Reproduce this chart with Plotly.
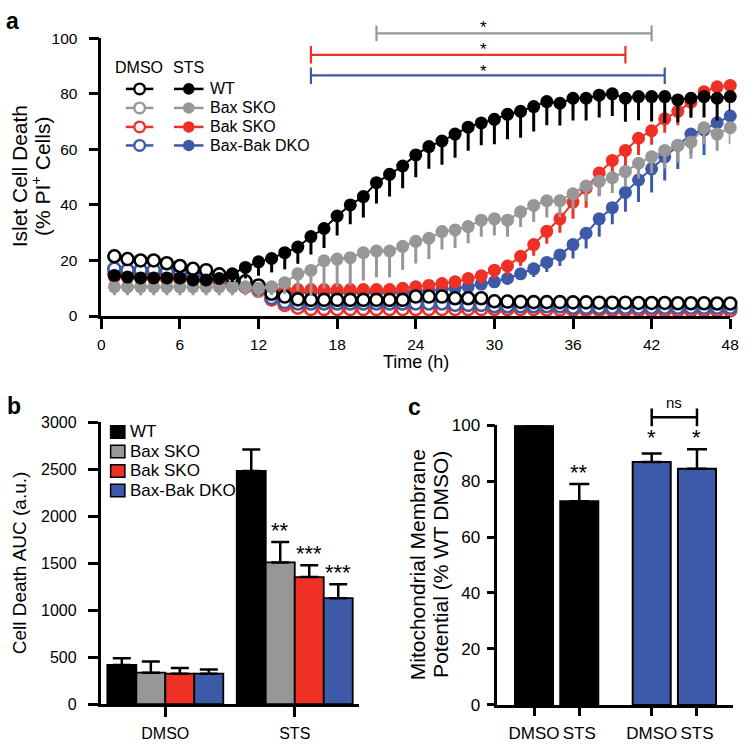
import plotly.graph_objects as go

W, H = 753, 749
def X(p): return p / W
def Y(p): return 1 - p / H

FONT = "Arial, Liberation Sans, Helvetica, sans-serif"
BLACK = "#000000"
GRAY = "#979797"
RED = "#EE3124"
BLUE = "#3D5AA8"

# ---------------- Panel a data ----------------
hours = list(range(1, 49))
xticks_a = [0, 6, 12, 18, 24, 30, 36, 42, 48]
yticks_a = [0, 20, 40, 60, 80, 100]

wt_sts = [14.6, 14, 13.7, 13.7, 13.7, 13.7, 13, 13, 13.5, 15.2, 17.5, 19.5, 20.7, 22.8, 24.8, 28.6,
          31.5, 36, 40, 43, 48, 51, 54, 58, 61, 63, 65.5, 68, 69.5, 70.8, 72.6, 73.7,
          75.4, 77.2, 76.6, 78.4, 78.4, 79.5, 80, 78.4, 79, 79, 79, 77.8, 78.4, 79, 78.4, 79]
wt_sts_err = [2, 2, 2, 2, 2, 2, 2, 2, 2, 3, 4, 5, 5, 6, 6, 6.5,
              7, 7, 7, 7.5, 7.5, 8, 8, 8, 8, 8.5, 8.5, 8.5, 8, 9, 9, 9.5,
              9, 8.5, 8, 8, 8, 8, 8, 8.5, 8.5, 9, 9.5, 8, 7, 7.5, 8, 5]

bax_sts = [10.5, 10.5, 10.5, 10.5, 10.5, 10.5, 10.5, 10.5, 10.5, 10.5, 10.5, 10, 10.5, 12, 15.2, 16.4,
           19.9, 20.5, 21, 22.8, 23.4, 23.4, 25.1, 26.9, 28, 30.4, 31, 32.2, 34.5, 35, 34.5, 37.5,
           39.8, 41.5, 41.5, 44, 46.8, 48.5, 49.8, 52, 55, 57.3, 59.6, 61.4, 62.6, 67.8, 65.5, 67.8]
bax_sts_err = [3, 3, 3, 3, 3, 3, 3, 3, 3, 3, 3, 3, 3, 4, 6, 9,
               10, 10, 10, 10, 9.5, 9.5, 8.5, 8, 7.5, 6.5, 6.5, 6, 6, 6, 6, 5.5,
               6, 6, 6, 5.5, 5.5, 5.5, 5.5, 5.5, 5.5, 6, 6.5, 6, 6, 6, 6, 6]

bak_sts = [14, 14, 13.5, 13.5, 13, 13, 13, 12.5, 12.5, 12, 12, 10.5, 9.5, 9.5, 9.5, 9.5,
           9.5, 9.5, 9.5, 9.5, 9.5, 9.5, 10, 10.5, 11, 11.7, 12.3, 13.5, 14.5, 16.5, 18, 21.5,
           25.7, 30.5, 35, 41, 46, 51.5, 56, 59.6, 64, 66.7, 71, 73.7, 77, 80.7, 82.5, 83]
bak_sts_err = [2, 2, 2, 2, 2, 2, 2, 2, 2, 2, 2, 2, 2, 2, 2, 2,
               2, 2, 2, 2, 2, 2, 2, 2, 2, 2, 2, 2, 3, 3, 3.5, 3.5,
               4, 4.5, 5, 6, 7, 8, 7, 6, 6, 5, 5, 5, 5, 4, 3, 2]

dko_sts = [16, 16, 15.5, 15.5, 15.5, 15, 15, 14.5, 14, 13, 12, 10, 9, 8.5, 8.5, 8.5,
           8.5, 8.5, 8.5, 8.5, 8.5, 8.5, 8.5, 9, 9, 9.5, 10, 10.5, 11.5, 12.3, 13.5, 15.2,
           17, 19.3, 22, 25.7, 29.8, 35, 39, 44.5, 49, 53, 57.3, 61.4, 65.5, 67, 69.6, 72]
dko_sts_err = [1.5] * 30 + [2, 2, 3, 3.5, 4, 5, 5.5, 6.5, 6, 7, 8, 8.5, 8.5, 8.5, 7, 9, 6, 5]

wt_dmso = [21.5, 20.5, 20, 20, 19, 18, 17, 16.5, 15, 14, 12.5, 11, 8, 7, 6, 5.8,
           5.8, 5.8, 5.8, 5.8, 5.8, 5.8, 5.8, 7, 7, 7, 6.4, 6.4, 6.4, 5.3, 5.2, 5.1,
           5, 5, 5, 4.9, 4.9, 4.8, 4.8, 4.8, 4.7, 4.7, 4.7, 4.6, 4.6, 4.6, 4.5, 4.5]
bax_dmso = [17, 16.5, 16, 16, 15.5, 15, 14.5, 14, 13.5, 12.5, 11, 9, 6, 4.5, 4, 3.5,
            3.5, 3.5, 3.5, 3.5, 3.5, 3.5, 3.5, 4.5, 4.5, 4.5, 4, 4, 4, 3.5, 3.5, 3.5,
            3.5, 3.5, 3.5, 3, 3, 3, 3, 3, 3, 3, 3, 3, 3, 3, 3, 3]
bak_dmso = [15, 15, 14.5, 14.5, 14, 14, 13.5, 13, 12.5, 11.5, 10.5, 9.5, 6, 4, 3, 2.5,
            2.5, 2.5, 2.5, 2.5, 2.5, 2.5, 2.5, 2.5, 2.5, 2.5, 2.5, 2.5, 2.5, 2.5, 2.5, 2.5,
            2.5, 2.3, 2.3, 2.2, 2.2, 2.2, 2.1, 2.1, 2.1, 2, 2, 2, 2, 2, 2, 2]
dko_dmso = [17, 16.5, 16.5, 16.5, 16, 16, 15.5, 15, 14, 13, 12, 10, 6.5, 5, 4.5, 4.5,
            4.5, 4.5, 4.5, 4.5, 4.5, 4.5, 4.5, 4.5, 4.5, 4.5, 4, 4, 4, 3.5, 3.5, 3.5,
            3.5, 3.5, 3.5, 3, 3, 3, 3, 3, 3, 3, 3, 3, 3, 3, 3, 3]

genotypes = ["WT", "Bax SKO", "Bak SKO", "Bax-Bak DKO"]
colors = [BLACK, GRAY, RED, BLUE]

# significance ranges (hours) in panel a: gray, red, blue
sig_ranges = [(21, 42), (16, 40), (16, 43)]
sig_colors = [GRAY, RED, BLUE]

# ---------------- Panel b data ----------------
treatments_b = ["DMSO", "STS"]
auc_mean = {"WT": [418, 2481], "Bax SKO": [335, 1508], "Bak SKO": [325, 1353], "Bax-Bak DKO": [325, 1128]}
auc_err = {"WT": [70, 228], "Bax SKO": [120, 218], "Bak SKO": [60, 125], "Bax-Bak DKO": [45, 149]}
auc_sig = {"Bax SKO": "**", "Bak SKO": "***", "Bax-Bak DKO": "***"}
yticks_b = [0, 500, 1000, 1500, 2000, 2500, 3000]

# ---------------- Panel c data ----------------
c_labels = ["DMSO", "STS", "DMSO", "STS"]
c_pos = [1, 2, 3.6, 4.6]
c_vals = [100, 72.8, 86.8, 84.4]
c_err = [0, 6.2, 3.1, 7.0]
c_colors = [BLACK, BLACK, BLUE, BLUE]
c_sig = ["", "**", "*", "*"]
yticks_c = [0, 20, 40, 60, 80, 100]

fig = go.Figure()

# ---------- Panel a traces ----------
def sts_trace(y, err, c):
    return go.Scatter(x=hours, y=y, mode="lines+markers", xaxis="x", yaxis="y",
                      line=dict(color=c, width=2), marker=dict(size=13, color=c, line=dict(width=0)),
                      error_y=dict(type="data", symmetric=False, array=[0] * len(err), arrayminus=err,
                                   color=c, thickness=3, width=0),
                      cliponaxis=False, showlegend=False, hoverinfo="skip")

def dmso_trace(y, c):
    return go.Scatter(x=hours, y=y, mode="lines+markers", xaxis="x", yaxis="y",
                      line=dict(color=c, width=2),
                      marker=dict(size=12, color="white", line=dict(color=c, width=2.6)),
                      cliponaxis=False, showlegend=False, hoverinfo="skip")

fig.add_trace(sts_trace(dko_sts, dko_sts_err, BLUE))
fig.add_trace(sts_trace(bak_sts, bak_sts_err, RED))
fig.add_trace(dmso_trace(bax_dmso, GRAY))
fig.add_trace(dmso_trace(bak_dmso, RED))
fig.add_trace(dmso_trace(dko_dmso, BLUE))
fig.add_trace(dmso_trace(wt_dmso, BLACK))
fig.add_trace(sts_trace(bax_sts, bax_sts_err, GRAY))
fig.add_trace(sts_trace(wt_sts, wt_sts_err, BLACK))

# ---------- Panel b traces ----------
bargap_b = 0.104
for g, c in zip(genotypes, colors):
    fig.add_trace(go.Bar(x=treatments_b, y=auc_mean[g], xaxis="x2", yaxis="y2",
                         marker=dict(color=c, line=dict(color=BLACK, width=1.8)),
                         error_y=dict(type="data", symmetric=False, array=auc_err[g],
                                      arrayminus=[0, 0], color=BLACK, thickness=2.5, width=9),
                         showlegend=False, hoverinfo="skip"))

# ---------- Panel c trace ----------
fig.add_trace(go.Bar(x=c_pos, y=c_vals, width=0.84, xaxis="x3", yaxis="y3",
                     marker=dict(color=c_colors, line=dict(color=BLACK, width=2)),
                     error_y=dict(type="data", symmetric=False, array=c_err, arrayminus=[0] * 4,
                                  color=BLACK, thickness=2.5, width=10),
                     showlegend=False, hoverinfo="skip"))

axis_common = dict(showline=True, linecolor=BLACK, linewidth=2.5, ticks="outside", tickcolor=BLACK,
                   tickwidth=2.5, showgrid=False, zeroline=False, fixedrange=True)

fig.update_layout(
    width=W, height=H, margin=dict(l=0, r=0, t=0, b=0),
    paper_bgcolor="white", plot_bgcolor="white",
    font=dict(family=FONT, color=BLACK),
    barmode="group", bargap=bargap_b, bargroupgap=0,
    xaxis=dict(axis_common, domain=[X(99), X(739)], range=[0, 48], tickvals=xticks_a,
               ticklen=10, tickfont=dict(size=15.5), anchor="y", ticklabelstandoff=3),
    yaxis=dict(axis_common, domain=[Y(315), Y(30)], range=[0, 100], tickvals=yticks_a,
               ticklen=10, tickfont=dict(size=15.5), anchor="x", ticklabelstandoff=8),
    xaxis2=dict(axis_common, domain=[X(98.3), X(361.7)], range=[-0.5, 1.5], type="category",
                ticklen=10, tickfont=dict(size=16), anchor="y2", ticklabelstandoff=3),
    yaxis2=dict(axis_common, domain=[Y(713.3), Y(424)], range=[0, 3000], tickvals=yticks_b,
                ticklen=10, tickfont=dict(size=16), anchor="x2", ticklabelstandoff=8),
    xaxis3=dict(axis_common, domain=[X(502), X(742)], range=[0.19, 5.40], tickvals=c_pos,
                ticktext=c_labels, ticklen=8, tickfont=dict(size=17), anchor="y3", ticklabelstandoff=3),
    yaxis3=dict(axis_common, domain=[Y(714), Y(427)], range=[0, 100], tickvals=yticks_c,
                ticklen=8, tickfont=dict(size=17), anchor="x3", ticklabelstandoff=3),
)

shapes = []
ann = []

# panel labels
for t, x, y in [("a", 9, 12), ("b", 10, 407), ("c", 418, 408)]:
    ann.append(dict(text="<b>%s</b>" % t, x=X(x), y=Y(y), xref="paper", yref="paper",
                    xanchor="center", yanchor="middle", showarrow=False, font=dict(size=23)))

# axis titles
ann.append(dict(text="Islet Cell Death", x=X(16), y=Y(172), xref="paper", yref="paper", textangle=-90,
                showarrow=False, font=dict(size=21), xanchor="center", yanchor="middle"))
ann.append(dict(text="(% PI<sup>+</sup> Cells)", x=X(37), y=Y(172), xref="paper", yref="paper", textangle=-90,
                showarrow=False, font=dict(size=21), xanchor="center", yanchor="middle"))
ann.append(dict(text="Time (h)", x=X(419), y=Y(362), xref="paper", yref="paper",
                showarrow=False, font=dict(size=18), xanchor="center", yanchor="middle"))
ann.append(dict(text="Cell Death AUC (a.u.)", x=X(16), y=Y(568), xref="paper", yref="paper", textangle=-90,
                showarrow=False, font=dict(size=19), xanchor="center", yanchor="middle"))
ann.append(dict(text="Mitochondrial Membrane", x=X(421), y=Y(570), xref="paper", yref="paper", textangle=-90,
                showarrow=False, font=dict(size=21), xanchor="center", yanchor="middle"))
ann.append(dict(text="Potential (% WT DMSO)", x=X(444), y=Y(570), xref="paper", yref="paper", textangle=-90,
                showarrow=False, font=dict(size=21), xanchor="center", yanchor="middle"))

# panel a legend
ann.append(dict(text="DMSO", x=X(137), y=Y(60), xref="paper", yref="paper", showarrow=False,
                font=dict(size=16), xanchor="center", yanchor="middle"))
ann.append(dict(text="STS", x=X(188), y=Y(60), xref="paper", yref="paper", showarrow=False,
                font=dict(size=16), xanchor="center", yanchor="middle"))
leg_rows = [82, 101.5, 121, 140]
for g, c, ry in zip(genotypes, colors, leg_rows):
    shapes.append(dict(type="line", xref="paper", yref="paper", x0=X(124), x1=X(152), y0=Y(ry), y1=Y(ry),
                       line=dict(color=c, width=2.5)))
    shapes.append(dict(type="line", xref="paper", yref="paper", x0=X(173), x1=X(203), y0=Y(ry), y1=Y(ry),
                       line=dict(color=c, width=2.5)))
    shapes.append(dict(type="circle", xref="paper", yref="paper", xsizemode="pixel", ysizemode="pixel",
                       xanchor=X(138), yanchor=Y(ry), x0=-5.3, x1=5.3, y0=-5.3, y1=5.3,
                       fillcolor="white", line=dict(color=c, width=2.4)))
    shapes.append(dict(type="circle", xref="paper", yref="paper", xsizemode="pixel", ysizemode="pixel",
                       xanchor=X(188), yanchor=Y(ry), x0=-5.8, x1=5.8, y0=-5.8, y1=5.8,
                       fillcolor=c, line=dict(color=c, width=0)))
    ann.append(dict(text=g, x=X(208), y=Y(ry), xref="paper", yref="paper", showarrow=False,
                    font=dict(size=16), xanchor="left", yanchor="middle"))

# panel a significance bars
sig_rows = [(25, 17, 33), (47, 38, 56), (68, 60, 77)]
for (t0, t1), c, (ly, ty0, ty1) in zip(sig_ranges, sig_colors, sig_rows):
    shapes.append(dict(type="line", xref="x", yref="paper", x0=t0, x1=t1, y0=Y(ly), y1=Y(ly),
                       line=dict(color=c, width=2.2)))
    for t in (t0, t1):
        shapes.append(dict(type="line", xref="x", yref="paper", x0=t, x1=t, y0=Y(ty0), y1=Y(ty1),
                           line=dict(color=c, width=2.2)))
# one stacked annotation holding the three asterisks (one per comparison)
ann.append(dict(text="<br>".join(["*"] * len(sig_ranges)), x=29.2, y=Y(42), xref="x", yref="paper",
                showarrow=False, font=dict(size=17), xanchor="center", yanchor="middle"))

# panel b legend
for g, c, ry in zip(genotypes, colors, [434, 454, 474, 494]):
    shapes.append(dict(type="rect", xref="paper", yref="paper", x0=X(108.5), x1=X(123), y0=Y(ry - 6.5),
                       y1=Y(ry + 6.5), fillcolor=c, line=dict(color=BLACK, width=1.5)))
    ann.append(dict(text=g, x=X(126), y=Y(ry), xref="paper", yref="paper", showarrow=False,
                    font=dict(size=17), xanchor="left", yanchor="middle"))

# panel b significance asterisks
bw = (1 - bargap_b) / len(genotypes)
for i, g in enumerate(genotypes):
    if g in auc_sig:
        off = (i - (len(genotypes) - 1) / 2) * bw
        ann.append(dict(text=auc_sig[g], x=1 + off, y=auc_mean[g][1] + auc_err[g][1], xref="x2", yref="y2",
                        showarrow=False, font=dict(size=22), xanchor="center", yanchor="bottom", yshift=-3))

# panel c significance
for p, v, e, s in zip(c_pos, c_vals, c_err, c_sig):
    if s:
        top = v + e if s == "**" else max(c_vals[2] + c_err[2], c_vals[3] + c_err[3])
        ann.append(dict(text=s, x=p, y=top, xref="x3", yref="y3", showarrow=False,
                        font=dict(size=22), xanchor="center", yanchor="bottom", yshift=-3))
# ns bracket between the two DKO bars
shapes.append(dict(type="line", xref="x3", yref="paper", x0=c_pos[2], x1=c_pos[3], y0=Y(419), y1=Y(419),
                   line=dict(color=BLACK, width=2.5)))
for p in (c_pos[2], c_pos[3]):
    shapes.append(dict(type="line", xref="x3", yref="paper", x0=p, x1=p, y0=Y(410), y1=Y(428),
                       line=dict(color=BLACK, width=2.5)))
ann.append(dict(text="ns", x=(c_pos[2] + c_pos[3]) / 2, y=Y(404), xref="x3", yref="paper", showarrow=False,
                font=dict(size=15), xanchor="center", yanchor="middle"))

fig.update_layout(shapes=shapes, annotations=ann)
fig.write_html("out.html", config={"displayModeBar": False},
               post_script="document.body.style.margin='0';document.body.style.overflow='hidden';")
